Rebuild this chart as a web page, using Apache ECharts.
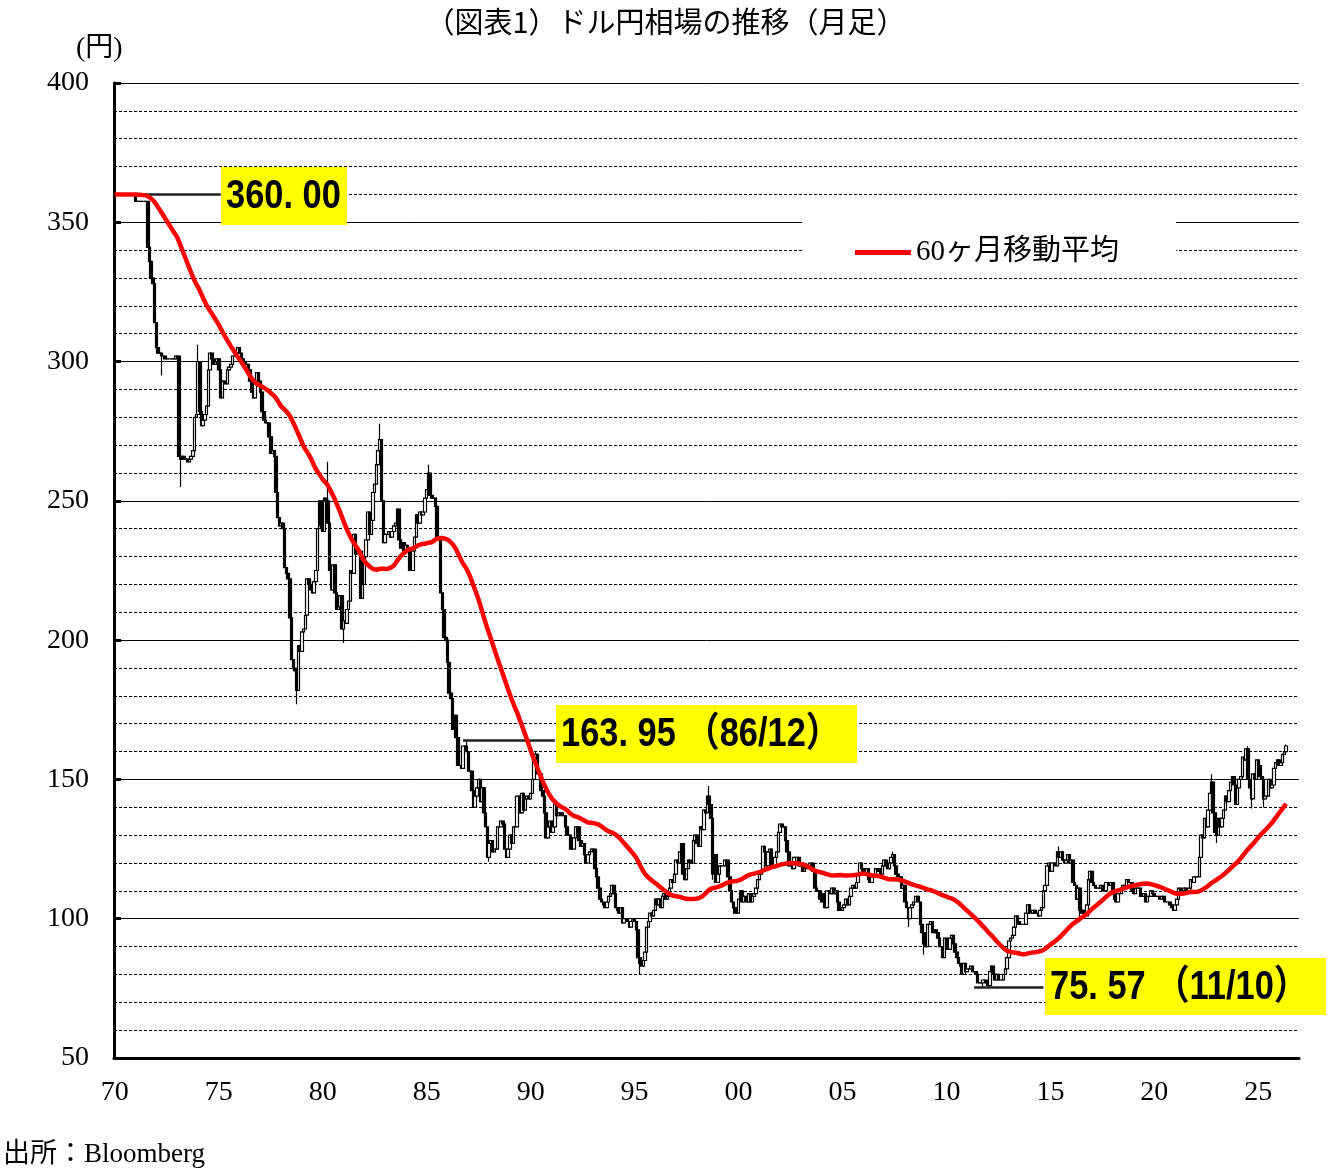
<!DOCTYPE html>
<html>
<head>
<meta charset="utf-8">
<title>ドル円相場の推移（月足）</title>
<script src="https://cdn.jsdelivr.net/npm/echarts@6/dist/echarts.min.js"></script>
<style>
  html, body { margin: 0; padding: 0; background: #fff; }
  #chart { width: 1331px; height: 1170px; }
</style>
</head>
<body>
<div id="chart"></div>
<script>
// 月足の終値（円）。始値は前月の終値とする
const startYear = 1970;
const axisEndYear = 2026; // 横軸は2026年末まで

// 1965-69年は固定相場（移動平均の計算用）
const pre1970 = [
  360, 360, 360, 360, 360, 360, 360, 360, 360, 360, 360, 360,
  360, 360, 360, 360, 360, 360, 360, 360, 360, 360, 360, 360,
  360, 360, 360, 360, 360, 360, 360, 360, 360, 360, 360, 360,
  360, 360, 360, 360, 360, 360, 360, 360, 360, 360, 360, 360,
  360, 360, 360, 360, 360, 360, 360, 360, 360, 360, 360, 360
];

const closes = [
  360, 360, 360, 360, 360, 360, 360, 360, 360, 360, 360, 360, // 1970
  357.5, 357.5, 357.5, 357.5, 357.5, 357.5, 357.5, 341, 336, 330, 328, 314, // 1971
  305, 303, 303, 302, 302, 301, 301, 301, 301, 301, 301, 302, // 1972
  302, 266, 265, 266, 265, 265, 264, 265, 266, 268, 280, 281, // 1973
  300, 282, 277, 279, 281, 284, 297, 303, 301, 299, 300, 301, // 1974
  297, 287, 293, 293, 292, 297, 298, 299, 302, 302, 303, 305, // 1975
  303, 301, 300, 299, 299, 297, 293, 289, 287, 293, 296, 293, // 1976
  289, 282, 279, 278, 278, 273, 267, 268, 266, 253, 244, 241, // 1977
  242, 240, 226, 224, 222, 208, 193, 190, 189, 182, 198, 196, // 1978
  203, 204, 209, 222, 220, 218, 217, 221, 225, 240, 250, 241, // 1979
  239, 251, 250, 242, 225, 218, 227, 217, 211, 212, 216, 204, // 1980
  207, 206, 211, 214, 225, 224, 238, 231, 232, 232, 215, 220, // 1981
  230, 236, 246, 238, 243, 253, 256, 263, 268, 272, 250, 235, // 1982
  238, 238, 239, 237, 239, 241, 242, 247, 236, 233, 235, 232, // 1983
  234, 233, 225, 225, 232, 237, 245, 242, 246, 245, 246, 251, // 1984
  254, 260, 252, 251, 251, 248, 237, 237, 217, 211, 201, 200, // 1985
  192, 181, 179, 168, 173, 165, 155, 155, 154, 162, 162, 160, // 1986
  153, 153, 146, 140, 144, 147, 150, 142, 147, 138, 133, 122, // 1987
  127, 128, 124, 125, 125, 133, 133, 135, 134, 125, 122, 125, // 1988
  130, 127, 133, 133, 144, 144, 138, 145, 139, 143, 144, 143, // 1989
  145, 150, 158, 159, 152, 152, 146, 144, 138, 129, 133, 135, // 1990
  131, 133, 141, 137, 138, 138, 137, 137, 133, 130, 130, 125, // 1991
  125, 129, 133, 133, 128, 126, 127, 123, 120, 123, 124, 125, // 1992
  125, 118, 115, 111, 107, 106, 105, 104, 106, 108, 109, 112, // 1993
  109, 104, 103, 102, 104, 98.5, 100, 100, 99, 97, 99, 99.6, // 1994
  99, 96, 86, 84, 83, 85, 88, 97, 99, 102, 101, 103, // 1995
  107, 105, 107, 104, 108, 109, 107, 108, 111, 114, 113, 116, // 1996
  121, 120, 124, 127, 116, 114, 118, 121, 120, 120, 128, 130, // 1997
  127, 126, 133, 132, 139, 138, 144, 141, 136, 116, 123, 113, // 1998
  116, 119, 119, 119, 121, 121, 115, 110, 106, 104, 102, 102, // 1999
  107, 110, 106, 108, 108, 106, 109, 106, 108, 109, 111, 114, // 2000
  116, 117, 126, 124, 119, 124, 125, 119, 119, 122, 124, 131, // 2001
  134, 133, 133, 128, 124, 119, 120, 118, 122, 122, 122, 119, // 2002
  120, 117, 118, 119, 119, 120, 120, 117, 111, 110, 110, 107, // 2003
  106, 109, 104, 110, 110, 109, 111, 109, 110, 106, 103, 103, // 2004
  104, 105, 107, 105, 108, 111, 112, 111, 113, 116, 120, 118, // 2005
  117, 116, 118, 114, 113, 115, 115, 118, 118, 117, 116, 119, // 2006
  121, 119, 118, 120, 122, 123, 119, 116, 115, 115, 111, 112, // 2007
  106, 104, 100, 104, 105, 106, 108, 108, 106, 98, 95, 91, // 2008
  90, 98, 98, 99, 95, 96, 95, 93, 90, 90, 86, 93, // 2009
  90, 89, 93, 94, 91, 88, 86, 84, 83, 80, 84, 81, // 2010
  82, 82, 83, 81, 81, 80, 77, 77, 77, 78, 78, 77, // 2011
  76, 81, 83, 80, 78, 80, 78, 78, 78, 80, 82, 86, // 2012
  92, 93, 94, 97, 101, 99, 98, 98, 98, 98, 102, 105, // 2013
  102, 102, 103, 102, 102, 101, 103, 104, 110, 112, 119, 120, // 2014
  117, 120, 120, 119, 124, 122, 124, 121, 120, 121, 123, 120, // 2015
  121, 113, 112, 107, 111, 103, 102, 103, 101, 105, 114, 117, // 2016
  113, 112, 111, 111, 111, 112, 110, 110, 113, 113, 112, 113, // 2017
  109, 107, 106, 109, 109, 111, 112, 111, 114, 113, 113, 110, // 2018
  109, 111, 111, 111, 108, 108, 109, 106, 108, 108, 110, 109, // 2019
  108, 108, 108, 107, 108, 108, 106, 106, 106, 105, 104, 103, // 2020
  105, 107, 111, 109, 110, 111, 110, 110, 111, 114, 113, 115, // 2021
  115, 115, 122, 130, 129, 136, 133, 139, 145, 149, 138, 131, // 2022
  130, 136, 133, 136, 139, 144, 142, 146, 149, 151, 148, 141, // 2023
  147, 150, 151, 158, 157, 161, 150, 147, 143, 152, 150, 157, // 2024
  155, 151, 150, 143, 144, 144, 150, 147, 148, 154, 156, 157, // 2025
  155, 156, 159, 160, 162 // 2026
];

// 目立つヒゲ（高値・安値）
const wickMonths = ['1972-04', '1973-03', '1974-01', '1978-10', '1980-04', '1981-01', '1982-10',
  '1985-02', '1986-12', '1988-01', '1990-04', '1995-04', '1998-08', '1998-10', '2007-06',
  '2008-03', '2008-12', '2011-10', '2015-06', '2016-06', '2022-10', '2023-01', '2024-07',
  '2024-09', '2025-04', '2026-05'];
const wickValues = [295, 255, 306, 177, 264, 199, 277.7,
  263, 163.95, 120.5, 160.3, 79.8, 147.6, 114, 124.1,
  97, 87.1, 75.57, 125.9, 99, 151.9, 127.2, 161.9,
  139.6, 139.9, 162.5];

// 注記
const noteFrom = ['1970-01', '1986-10', '2011-05'];
const noteTo = ['1975-02', '1991-03', '2014-09'];
const noteValues = [360, 163.95, 75.57];
const noteTexts = ['360. 00', '163. 95 （86/12）', '75. 57 （11/10）'];

const months = [];
for (let y = startYear; y <= axisEndYear; y++) {
  for (let m = 1; m <= 12; m++) months.push(y + '-' + (m < 10 ? '0' + m : m));
}

const candles = closes.map((c, i) => {
  const o = i === 0 ? pre1970[pre1970.length - 1] : closes[i - 1];
  let lo = Math.min(o, c), hi = Math.max(o, c);
  const w = wickMonths.indexOf(months[i]);
  if (w >= 0) {
    lo = Math.min(lo, wickValues[w]);
    hi = Math.max(hi, wickValues[w]);
  }
  return [o, c, lo, hi];
});

// 60ヶ月移動平均
const all = pre1970.concat(closes);
const ma60 = closes.map((_, i) => {
  const end = i + pre1970.length;
  let s = 0;
  for (let k = end - 59; k <= end; k++) s += all[k];
  return +(s / 60).toFixed(2);
});

const serif = '"Liberation Serif", "Noto Sans CJK JP"';
const noteFont = 'bold 40px "Liberation Sans", "Noto Sans CJK JP"';
const boxes = [[221, 167, 126, 58], [556, 705, 301, 58], [1045, 958, 281, 57]];

const graphics = [
  { type: 'text', x: 76, y: 35, z: 100, style: { text: '(円)', font: '28px ' + serif, fill: '#000' } },
  { type: 'text', x: 3, y: 1141, z: 100, style: { text: '出所：Bloomberg', font: '27px ' + serif, fill: '#000' } }
];
boxes.forEach((b, i) => {
  graphics.push({ type: 'rect', z: 100, shape: { x: b[0], y: b[1], width: b[2], height: b[3] }, style: { fill: '#ffff00' } });
  graphics.push({ type: 'text', z: 101, x: b[0] + 5, y: b[1] + b[3] / 2 + 1, scaleX: 0.86,
    style: { text: noteTexts[i], font: noteFont, fill: '#000', verticalAlign: 'middle' } });
});

const chart = echarts.init(document.getElementById('chart'));
chart.setOption({
  animation: false,
  backgroundColor: '#fff',
  title: {
    text: '（図表1）ドル円相場の推移（月足）',
    left: 'center',
    top: 2,
    textStyle: { fontFamily: 'Noto Sans CJK JP', fontSize: 29, fontWeight: 'normal', color: '#000' }
  },
  legend: {
    data: ['60ヶ月移動平均'],
    left: 802,
    top: 207,
    padding: [31, 57, 2, 53],
    backgroundColor: '#fff',
    icon: 'rect',
    itemWidth: 56,
    itemHeight: 5,
    textStyle: { fontFamily: serif, fontSize: 29, color: '#000' }
  },
  grid: { left: 114, right: 32, top: 83, bottom: 112 },
  xAxis: {
    type: 'category',
    data: months,
    boundaryGap: true,
    axisLine: { lineStyle: { color: '#000', width: 3 } },
    axisTick: {
      inside: true, length: 8, alignWithLabel: true,
      interval: (i, v) => v.slice(5) === '01',
      lineStyle: { color: '#000', width: 2 }
    },
    axisLabel: {
      interval: (i, v) => v.slice(5) === '01' && (+v.slice(0, 4)) % 5 === 0,
      formatter: v => v.slice(2, 4),
      color: '#000', fontFamily: serif, fontSize: 28, margin: 21
    },
    splitLine: { show: false }
  },
  yAxis: {
    type: 'value',
    min: 50, max: 400, interval: 50,
    axisLine: { show: true, lineStyle: { color: '#000', width: 3 } },
    axisTick: { show: true, inside: true, length: 7, lineStyle: { color: '#000', width: 3 } },
    axisLabel: { color: '#000', fontFamily: serif, fontSize: 28, margin: 25, padding: [14, 0, 0, 0] },
    splitLine: { show: true, lineStyle: { color: '#000', width: 1 } },
    minorTick: { show: false, splitNumber: 5 },
    minorSplitLine: { show: true, lineStyle: { color: '#000', width: 1, type: [3, 2] } }
  },
  series: [
    {
      type: 'candlestick',
      name: 'ドル円',
      data: candles,
      large: false,
      barWidth: 3,
      itemStyle: { color: '#fff', color0: '#000', borderColor: '#000', borderColor0: '#000', borderWidth: 1.2 },
      emphasis: { disabled: true },
      markLine: {
        silent: true,
        symbol: ['none', 'none'],
        label: { show: false },
        lineStyle: { color: '#222', width: 2.5, type: 'solid' },
        data: noteValues.map((v, i) => [{ coord: [noteFrom[i], v] }, { coord: [noteTo[i], v] }])
      }
    },
    {
      type: 'line',
      name: '60ヶ月移動平均',
      data: ma60,
      symbol: 'none',
      z: 5,
      lineStyle: { color: '#ff0000', width: 4.5 },
      itemStyle: { color: '#ff0000' },
      emphasis: { disabled: true }
    }
  ],
  graphic: graphics
});
</script>
</body>
</html>
